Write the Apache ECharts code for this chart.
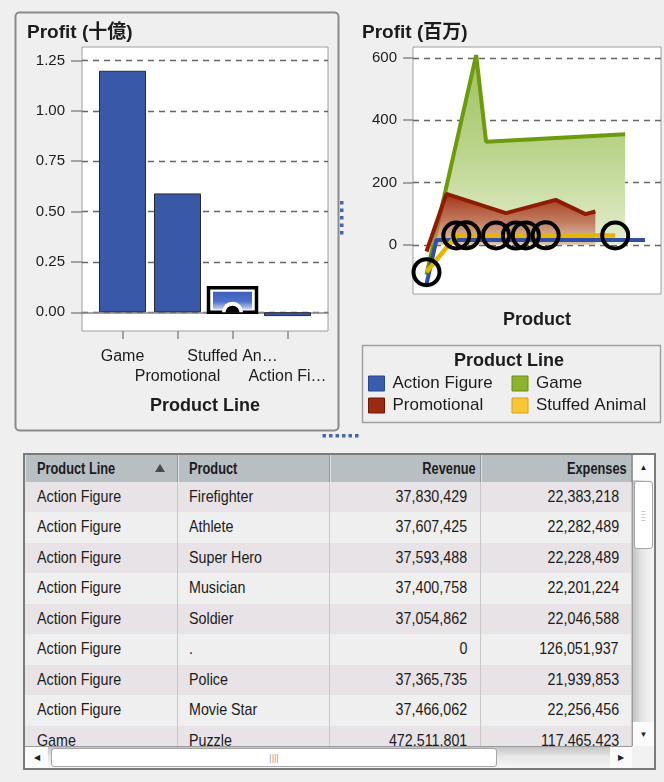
<!DOCTYPE html>
<html>
<head>
<meta charset="utf-8">
<title>Profit by Product Line</title>
<script src="https://cdn.jsdelivr.net/npm/echarts@6.0.0/dist/echarts.min.js"></script>
<style>
  html, body { margin:0; padding:0; width:664px; height:782px; background:#efefef; overflow:hidden; }
  #chart { position:absolute; left:0; top:0; width:664px; height:450px; }
  #table { position:absolute; left:23px; top:453px; width:633px; height:317px; box-sizing:border-box;
           border:2px solid #7b7b7b; background:#efefef; overflow:hidden;
           font-family:'Liberation Sans', Arial, sans-serif; color:#1c1c1c; }
  .row { position:absolute; left:0; width:607px; font-size:17px; }
  .cell { position:absolute; top:0; height:100%; box-sizing:border-box; white-space:nowrap; overflow:hidden;
          border-right:1px solid #c8c8c8; }
  .txt { display:inline-block; transform:scaleX(0.84); }
  .l { text-align:left; } .l .txt { transform-origin:0 50%; }
  .r { text-align:right; } .r .txt { transform-origin:100% 50%; }
  .head { background:#b8bfc2; border-bottom:1px solid #8a9296; font-weight:bold; font-size:16px; }
  .head .cell { border-right:1px solid #8e969a; box-shadow: inset 1px 0 0 #dfe3e5; }
  .head .txt { transform:scaleX(0.8); }
  .sort { position:absolute; left:130px; top:9px; width:0; height:0; border-left:5px solid transparent;
          border-right:5px solid transparent; border-bottom:8px solid #4a4a4a; }
  .vs { position:absolute; left:607px; top:0; width:22px; height:291px;
        background:linear-gradient(to right, #c4c4c4, #e6e6e6 45%, #f6f6f6); border-left:1px solid #9a9a9a; box-sizing:border-box; }
  .hs { position:absolute; left:0; top:291px; width:607px; height:22px;
        background:linear-gradient(to bottom, #c4c4c4, #e6e6e6 45%, #f6f6f6); border-top:1px solid #9a9a9a; box-sizing:border-box; }
  .corner { position:absolute; left:607px; top:291px; width:22px; height:22px; background:#f2f2f2; }
  .btn { position:absolute; background:#fbfbfb; box-sizing:border-box; font-size:8px; color:#222;
         display:flex; align-items:center; justify-content:center; }
  .thumb { position:absolute; background:#ffffff; border:1px solid #a6a6a6; border-radius:3px; box-sizing:border-box;
           display:flex; align-items:center; justify-content:center; color:#9a9a9a; font-size:9px; }
</style>
</head>
<body>
<div id="chart"></div>
<div id="table"></div>
<script>
// ---- Profit by product line (billions) ----
const barTickLabels = ['Game', 'Promotional', 'Stuffed An\u2026', 'Action Fi\u2026'];
const profitBillions = [1.199, 0.59, 0.122, -0.019];
const selectedBar = 2;                      // Stuffed Animal is the active selection
const billionTicks = [0, 0.25, 0.5, 0.75, 1.0, 1.25];
const billionRange = [-0.093, 1.317];

// ---- Profit by product (millions), one array per product line ----
const productLines = ['Action Figure', 'Game', 'Promotional', 'Stuffed Animal'];
const products = ['.', 'Athlete', 'Baseball Cap', 'Bear', 'Bunny', 'Card Game', 'Chess', 'Dinosaur',
  'Drink Bottle', 'Elephant', 'Fawn', 'Firefighter', 'Lion', 'Magnet', 'Movie Star', 'Musician',
  'Notepad', 'Pen', 'Police', 'Puppy', 'Puzzle', 'Soldier', 'Super Hero'];
const profitActionFigure = [-126.05, 15.32, null, null, null, null, null, null, null, null, null, 15.45,
  null, null, 15.21, 15.20, null, null, 15.43, null, null, 15.01, 15.36];
const profitGame = [-96, null, null, null, null, 609, 331, null, null, null, null, null,
  null, null, null, null, null, null, null, null, 355.05, null, null];
const profitPromotional = [-21.5, null, 163.5, null, null, null, null, null, 101.6, null, null, null,
  null, 144.2, null, null, 98.4, 106.7, null, null, null, null, null];
const profitStuffedAnimal = [-88, null, null, 29.8, 30.4, null, null, 30.1, null, 29.6, 30.2, null,
  30.5, null, null, null, null, null, null, 29.9, null, null, null];
const millionTicks = [0, 200, 400, 600];
const millionRange = [-158, 635];

// ---- Detail table ----
const tableColumns = ['Product Line', 'Product', 'Revenue', 'Expenses'];
const rowProductLine = ['Action Figure', 'Action Figure', 'Action Figure', 'Action Figure', 'Action Figure',
  'Action Figure', 'Action Figure', 'Action Figure', 'Game'];
const rowProduct = ['Firefighter', 'Athlete', 'Super Hero', 'Musician', 'Soldier', '.', 'Police', 'Movie Star', 'Puzzle'];
const rowRevenue = [37830429, 37607425, 37593488, 37400758, 37054862, 0, 37365735, 37466062, 472511801];
const rowExpenses = [22383218, 22282489, 22228489, 22201224, 22046588, 126051937, 21939853, 22256456, 117465423];

const FONT = "'Liberation Sans', 'Noto Sans CJK JP', sans-serif";
const INK = '#1c1c1c';
const BAR_WIDTH = 47;
const lineColor = { 'Action Figure': '#2d50a6', 'Game': '#6c9c0c', 'Promotional': '#8e1c02', 'Stuffed Animal': '#e6b402' };
const swatch = {
  'Action Figure': { color: '#3a5cae', borderColor: '#27478f' },
  'Game': { color: '#8db22c', borderColor: '#6c900f' },
  'Promotional': { color: '#9a2a10', borderColor: '#761804' },
  'Stuffed Animal': { color: '#f8c535', borderColor: '#d9a20c' }
};

const axisGray = '#8a8a8a';
const gridDash = { type: [6, 5], color: '#666666', width: 1.3 };
const boldName = { fontFamily: FONT, fontSize: 18, fontWeight: 'bold', color: INK };
const boldTitle = { fontFamily: FONT, fontSize: 19, fontWeight: 'bold', color: INK };

// selection decoration drawn over the active bar
function renderSelection(params, api) {
  const cx = api.coord([api.value(0), api.value(1)]);
  const base = api.coord([api.value(0), 0]);
  const y0 = Math.min(cx[1], base[1]);
  const h = Math.abs(base[1] - cx[1]);
  const half = BAR_WIDTH / 2 + 0.5;
  return {
    type: 'group',
    children: [
      { type: 'rect', shape: { x: cx[0] - half, y: y0, width: half * 2, height: h },
        style: { fill: '#ffffff', stroke: '#000000', lineWidth: 3.5 } },
      { type: 'rect', shape: { x: cx[0] - half + 4.5, y: y0 + 4, width: half * 2 - 9, height: h - 7 },
        style: { fill: new echarts.graphic.LinearGradient(0, 0, 0, 1, [
          { offset: 0, color: '#3c5db8' }, { offset: 0.55, color: '#4e6fca' }, { offset: 1, color: '#c4d0f0' }]) } },
      { type: 'sector', shape: { cx: cx[0], cy: base[1], r0: 0, r: 10.5, startAngle: Math.PI, endAngle: Math.PI * 2 },
        style: { fill: '#ffffff' } },
      { type: 'sector', shape: { cx: cx[0], cy: base[1] + 0.5, r0: 0, r: 7, startAngle: Math.PI, endAngle: Math.PI * 2 },
        style: { fill: '#000000' } }
    ]
  };
}

function legendItems(names) {
  return names.map(n => ({ name: n, icon: 'rect', itemStyle: { color: swatch[n].color, borderColor: swatch[n].borderColor, borderWidth: 1 } }));
}
const legendBase = {
  orient: 'vertical', top: 375, itemWidth: 16, itemHeight: 15, itemGap: 5, padding: 0,
  selectedMode: false, icon: 'rect',
  textStyle: { fontFamily: FONT, fontSize: 17, color: INK, lineHeight: 17, padding: [0, 0, 0, 3] }
};

function lineSeries(name, data, extra) {
  return Object.assign({
    type: 'line', name: name, xAxisIndex: 3, yAxisIndex: 3, data: data,
    connectNulls: true, symbol: 'none', animation: false,
    lineStyle: { color: lineColor[name], width: 4, join: 'bevel' },
    itemStyle: { color: lineColor[name] }
  }, extra || {});
}

const chart = echarts.init(document.getElementById('chart'), null, { renderer: 'canvas' });
chart.setOption({
  animation: false,
  backgroundColor: 'transparent',
  textStyle: { fontFamily: FONT },
  title: [
    { text: 'Profit (\u5341\u5104)', left: 27, top: 23, padding: 0, textStyle: boldTitle },
    { text: 'Profit (\u767e\u4e07)', left: 362, top: 23, padding: 0, textStyle: boldTitle }
  ],
  grid: [
    { left: 82, top: 47, width: 246, height: 284, show: true, backgroundColor: '#ffffff', borderColor: '#9e9e9e', borderWidth: 1 },
    { left: 95, top: 47, width: 220, height: 284 },
    { left: 413, top: 47, width: 248, height: 247, show: true, backgroundColor: '#ffffff', borderColor: '#9e9e9e', borderWidth: 1 },
    { left: 426.5, top: 47, width: 218.5, height: 247 }
  ],
  xAxis: [
    { gridIndex: 0, type: 'value', min: 0, max: 1,
      axisLine: { show: true, onZero: true, lineStyle: { color: axisGray, width: 1.5 } },
      axisTick: { show: false }, axisLabel: { show: false }, splitLine: { show: false } },
    { gridIndex: 1, type: 'category', data: barTickLabels,
      axisLine: { show: false, onZero: false },
      axisTick: { show: true, alignWithLabel: true, length: 8, lineStyle: { color: axisGray, width: 1.5 } },
      axisLabel: { interval: 0, margin: 16, fontFamily: FONT, fontSize: 16, color: INK, lineHeight: 20,
                   formatter: (v, i) => (i % 2 ? '\n' + v : v) },
      name: 'Product Line', nameLocation: 'middle', nameGap: 66, nameTextStyle: boldName },
    { gridIndex: 2, type: 'value', min: 0, max: 1,
      axisLine: { show: false, onZero: false }, axisTick: { show: false }, axisLabel: { show: false }, splitLine: { show: false },
      name: 'Product', nameLocation: 'middle', nameGap: 17, nameTextStyle: boldName },
    { gridIndex: 3, type: 'category', data: products, boundaryGap: false, show: false,
      axisLine: { onZero: false } }
  ],
  yAxis: [
    { gridIndex: 0, type: 'value', min: billionRange[0], max: billionRange[1],
      axisLine: { show: false },
      axisTick: { show: true, length: 11, customValues: billionTicks, lineStyle: { color: axisGray, width: 1.5 } },
      axisLabel: { customValues: billionTicks, margin: 17, fontFamily: FONT, fontSize: 15, color: INK,
                   formatter: v => Number(v).toFixed(2) },
      splitLine: { show: true, lineStyle: gridDash } },
    { gridIndex: 1, type: 'value', min: billionRange[0], max: billionRange[1], show: false },
    { gridIndex: 2, type: 'value', min: millionRange[0], max: millionRange[1],
      axisLine: { show: false },
      axisTick: { show: true, length: 10, customValues: millionTicks, lineStyle: { color: axisGray, width: 1.5 } },
      axisLabel: { customValues: millionTicks, margin: 16, fontFamily: FONT, fontSize: 15, color: INK },
      splitLine: { show: true, lineStyle: gridDash } },
    { gridIndex: 3, type: 'value', min: millionRange[0], max: millionRange[1], show: false }
  ],
  legend: [
    Object.assign({}, legendBase, { left: 368, data: legendItems(['Action Figure', 'Promotional']) }),
    Object.assign({}, legendBase, { left: 511.5, data: legendItems(['Game', 'Stuffed Animal']) })
  ],
  series: [
    { type: 'bar', xAxisIndex: 1, yAxisIndex: 1, data: profitBillions, barWidth: BAR_WIDTH, z: 3,
      itemStyle: { color: '#3a58a8', borderColor: '#2a2a2a', borderWidth: 1 } },
    { type: 'custom', xAxisIndex: 1, yAxisIndex: 1, z: 4,
      data: [[selectedBar, profitBillions[selectedBar]]], renderItem: renderSelection },
    lineSeries('Game', profitGame, {
      z: 2,
      areaStyle: { opacity: 1, color: new echarts.graphic.LinearGradient(0, 0, 0, 1, [
        { offset: 0, color: '#9ec15c' }, { offset: 0.45, color: '#bcd58e' },
        { offset: 0.86, color: '#e4eecf' }, { offset: 1, color: '#f2f7e9' }]) }
    }),
    lineSeries('Promotional', profitPromotional, {
      z: 3,
      areaStyle: { opacity: 1, color: new echarts.graphic.LinearGradient(0, 0, 0, 1, [
        { offset: 0, color: 'rgba(158,40,14,0.95)' }, { offset: 0.5, color: 'rgba(186,92,66,0.75)' },
        { offset: 0.88, color: 'rgba(214,160,140,0.55)' }, { offset: 1, color: 'rgba(230,200,190,0.4)' }]) }
    }),
    lineSeries('Action Figure', profitActionFigure, { z: 4 }),
    lineSeries('Stuffed Animal', profitStuffedAnimal, {
      z: 5, symbol: 'circle', symbolSize: 26, showAllSymbol: true,
      lineStyle: { color: lineColor['Stuffed Animal'], width: 4.5, join: 'bevel' },
      itemStyle: { color: 'rgba(0,0,0,0)', borderColor: '#000000', borderWidth: 4 }
    })
  ],
  graphic: [
    // selected panel frame
    { type: 'rect', left: 13, top: 10, z: 100, silent: true,
      shape: { width: 323, height: 418, r: 4 }, style: { fill: 'none', stroke: '#8b8b8b', lineWidth: 2 } },
    // legend box and title
    { type: 'rect', left: 360, top: 343, z: 100, silent: true,
      shape: { width: 298, height: 77 }, style: { fill: 'none', stroke: '#a0a0a0', lineWidth: 1.5 } },
    { type: 'text', x: 509, y: 361, z: 100, silent: true,
      style: { text: 'Product Line', align: 'center', verticalAlign: 'middle',
               font: "bold 18px 'Liberation Sans', sans-serif", fill: INK } },
    // splitter grips
    { type: 'group', z: 100, silent: true, children: [0, 1, 2, 3, 4].map(i => ({
        type: 'rect', shape: { x: 340, y: 201 + i * 7.5, width: 3.5, height: 3.5 }, style: { fill: '#4566a8' } })) },
    { type: 'group', z: 100, silent: true, children: [0, 1, 2, 3, 4, 5].map(i => ({
        type: 'rect', shape: { x: 322.5 + i * 6.5, y: 434, width: 3.5, height: 3.5 }, style: { fill: '#4566a8' } })) }
  ]
});

// ---- table ----
(function buildTable() {
  const host = document.getElementById('table');
  const colX = [0, 153, 305, 456], colW = [153, 152, 151, 151];
  const align = ['l', 'l', 'r', 'r'];
  const headPad = [12, 11, 4, 4], bodyPad = [12, 11, 13, 12];
  const fmt = n => n.toLocaleString('en-US');
  const padStyle = (a, p) => (a === 'l' ? 'padding-left:' + p + 'px' : 'padding-right:' + p + 'px');
  let html = '<div class="row head" style="top:0;height:27px;line-height:27px">';
  tableColumns.forEach((c, i) => {
    html += '<div class="cell ' + align[i] + '" style="left:' + colX[i] + 'px;width:' + colW[i] + 'px;' +
      padStyle(align[i], headPad[i]) + '"><span class="txt">' + c + '</span>' + (i === 0 ? '<span class="sort"></span>' : '') + '</div>';
  });
  html += '</div>';
  const rowH = 30.45;
  rowProduct.forEach((p, r) => {
    const vals = [rowProductLine[r], p, fmt(rowRevenue[r]), fmt(rowExpenses[r])];
    const bg = r % 2 === 0 ? '#e7e3e7' : '#efefef';
    html += '<div class="row" style="top:' + (27 + r * rowH) + 'px;height:' + rowH + 'px;line-height:' + rowH + 'px;background:' + bg + '">';
    vals.forEach((v, i) => {
      html += '<div class="cell ' + align[i] + '" style="left:' + colX[i] + 'px;width:' + colW[i] + 'px;' +
        padStyle(align[i], bodyPad[i]) + '"><span class="txt">' + v + '</span></div>';
    });
    html += '</div>';
  });
  // scroll bars
  html += '<div class="vs">' +
    '<div class="btn" style="left:0;top:0;width:21px;height:25px">\u25b2</div>' +
    '<div class="thumb" style="left:1px;top:26px;width:19px;height:68px;font-size:7px;line-height:3px;flex-direction:column">\u2013<br>\u2013<br>\u2013<br>\u2013</div>' +
    '<div class="btn" style="left:0;bottom:0;width:21px;height:24px">\u25bc</div></div>';
  html += '<div class="hs">' +
    '<div class="btn" style="left:0;top:0;width:23px;height:21px">\u25c0</div>' +
    '<div class="thumb" style="left:26px;top:1px;width:446px;height:19px">||||</div>' +
    '<div class="btn" style="left:585px;top:0;width:22px;height:21px">\u25b6</div></div>';
  html += '<div class="corner"></div>';
  host.innerHTML = html;
})();
</script>
</body>
</html>
